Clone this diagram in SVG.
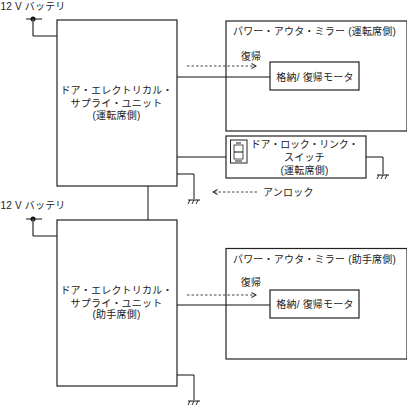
<svg xmlns="http://www.w3.org/2000/svg" width="407" height="406" viewBox="0 0 407 406">
<defs>
<marker id="open" viewBox="0 0 6 6" refX="5" refY="3" markerWidth="6" markerHeight="6" markerUnits="userSpaceOnUse" orient="auto-start-reverse"><path d="M0.5 0.5L5 3L0.5 5.5" fill="none" stroke="#333" stroke-width="1.1"/></marker>
<g id="gnd"><path d="M-6 0H6" stroke="#111" stroke-width="1" fill="none"/><path d="M-4 0L-6 4M0 0L-2 4M4 0L2 4" stroke="#111" stroke-width="0.9" fill="none"/></g>
</defs>
<style>
rect{fill:#fff;stroke:#222;stroke-width:1.2}
.l{fill:none;stroke:#111;stroke-width:1}
.g{fill:none;stroke:#555;stroke-width:1.5}
.d{fill:none;stroke:#444;stroke-width:1;stroke-dasharray:2.5 2}
text{font-family:"Liberation Sans","Noto Sans CJK JP",sans-serif;font-size:10px;letter-spacing:.2px;fill:#222;text-anchor:middle}
.s{text-anchor:start}
.n{letter-spacing:-.2px}
</style>
<g id="connectors">
<path class="l" d="M26 19H42"/><circle cx="33" cy="19" r="2.500" fill="#111"/>
<path class="g" d="M33 19V36"/><path class="l" d="M33 36H57"/>
<path class="l" d="M26 219H42"/><circle cx="33" cy="219" r="2.500" fill="#111"/>
<path class="g" d="M33 219V236"/><path class="l" d="M33 236H57"/>
<path class="l" d="M148 186V220"/>
<path class="l" d="M177 77H271"/>
<path class="l" d="M177 157H231"/>
<path class="l" d="M177 174H194V199"/>
<path class="l" d="M366 157H383V174"/>
<path class="l" d="M177 305H271"/>
<path class="l" d="M177 375H194V400"/>
<path class="d" d="M187 66H256" marker-end="url(#open)"/>
<path class="d" d="M257 192H213" marker-end="url(#open)"/>
<path class="d" d="M187 295H256" marker-end="url(#open)"/>
<use href="#gnd" x="194" y="200"/><use href="#gnd" x="383" y="175"/><use href="#gnd" x="194" y="401"/>
</g>
<g id="battery1"><text x="33" y="10">12 V バッテリ</text></g>
<g id="battery2"><text x="33" y="209">12 V バッテリ</text></g>
<g id="unit1"><rect x="57" y="20" width="120" height="166"/><text x="116.500" y="94">ドア・エレクトリカル・</text><text x="116.500" y="106.500">サプライ・ユニット</text><text x="116.500" y="119">(運転席側)</text></g>
<g id="unit2"><rect x="57" y="220" width="120" height="166"/><text x="116.500" y="294">ドア・エレクトリカル・</text><text x="116.500" y="306.500">サプライ・ユニット</text><text x="116.500" y="318">(助手席側)</text></g>
<g id="mirror1"><rect x="226" y="21" width="181" height="110" style="fill:none"/><text x="314.500" y="35">パワー・アウタ・ミラー (運転席側)</text><text x="251" y="60">復帰</text></g>
<g id="mirror2"><rect x="226" y="248.500" width="181" height="110.500" style="fill:none"/><text x="314.500" y="263">パワー・アウタ・ミラー (助手席側)</text><text x="251" y="286">復帰</text></g>
<g id="motor1"><rect x="270" y="62" width="89" height="28"/><text x="315" y="81">格納/ 復帰モータ</text></g>
<g id="motor2"><rect x="270" y="290" width="89" height="28"/><text x="315" y="308">格納/ 復帰モータ</text></g>
<g id="switch"><rect x="226" y="136" width="140" height="42"/><rect x="230.500" y="140" width="16.500" height="23" style="stroke-width:1"/><rect x="234" y="145" width="9" height="14" style="stroke-width:.8"/><path d="M234 152H243" class="l"/><path d="M236 143H241M235 161H242" stroke="#222" stroke-width="1.200"/><text class="n" x="304.500" y="148">ドア・ロック・リンク・</text><text x="304.500" y="160.500">スイッチ</text><text x="304.500" y="173.500">(運転席側)</text></g>
<g id="unlock"><text class="s" x="263" y="196">アンロック</text></g>
</svg>
